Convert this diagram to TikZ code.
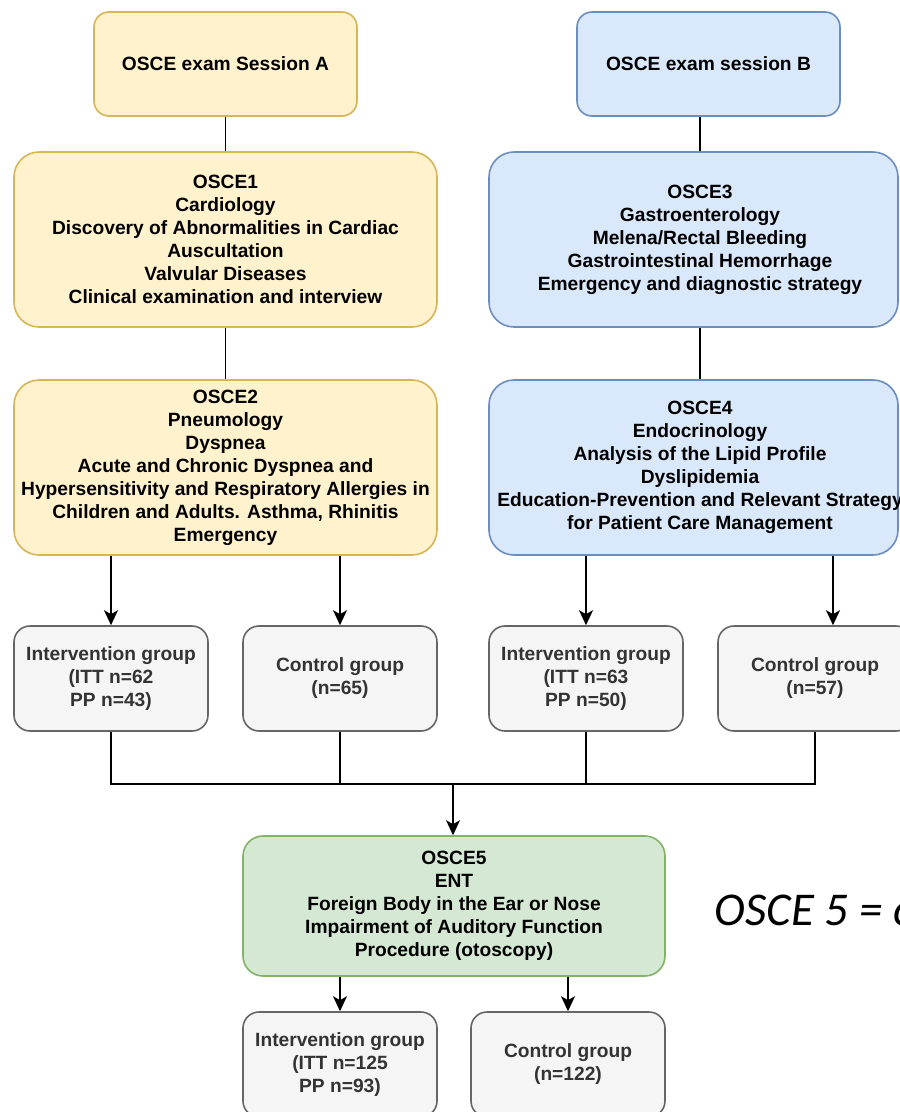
\documentclass[tikz,border=0pt]{standalone}
\usepackage{fontspec}
\setmainfont{Liberation Sans}
\newfontfamily\notefont{Carlito}
\usepackage{xcolor}
\usetikzlibrary{positioning,arrows.meta}

\definecolor{yellowfill}{HTML}{FFF2CC}
\definecolor{yellowline}{HTML}{D6B656}
\definecolor{bluefill}{HTML}{DAE8FC}
\definecolor{blueline}{HTML}{6C8EBF}
\definecolor{greenfill}{HTML}{D5E8D4}
\definecolor{greenline}{HTML}{82B366}
\definecolor{grayfill}{HTML}{F5F5F5}
\definecolor{grayline}{HTML}{666666}
\definecolor{graytext}{HTML}{333333}

\begin{document}
\begin{tikzpicture}[x=1pt, y=-1pt, line width=1.6pt,
    >={Stealth[length=15pt,width=14pt,inset=4pt]},
    every node/.style={font=\bfseries\fontsize{19.2}{23}\selectfont, align=center, inner sep=0pt},
    session/.style={draw, rounded corners=15pt, minimum width=263pt, minimum height=104pt},
    stage/.style={draw, rounded corners=25pt, minimum height=175pt},
    group/.style={draw=grayline, fill=grayfill, text=graytext, rounded corners=16pt,
        minimum width=194pt, minimum height=105pt},
    yellowbox/.style={fill=yellowfill, draw=yellowline},
    bluebox/.style={fill=bluefill, draw=blueline},
    greenbox/.style={fill=greenfill, draw=greenline}]

            % Define the page
            \useasboundingbox (0,0) rectangle (900,1112);
            \clip (0,0) rectangle (900,1112);
            \fill[white] (0,0) rectangle (900,1112);

            % Define the sessions
            \node[session, yellowbox] (sessA) at (225.5,64) {OSCE exam Session A};
            \node[session, bluebox] (sessB) at (708.5,64) {OSCE exam session B};

            % Define the stations of session A
            \node[stage, yellowbox, minimum width=423pt] (osce1) at (225.5,239.5)
                {OSCE1\\Cardiology\\Discovery of Abnormalities in Cardiac\\Auscultation\\Valvular Diseases\\Clinical examination and interview};
            \node[stage, yellowbox, minimum width=423pt] (osce2) at (225.5,467.5)
                {OSCE2\\Pneumology\\Dyspnea\\Acute and Chronic Dyspnea and\\Hypersensitivity and Respiratory Allergies in\\Children and Adults. Asthma, Rhinitis\\Emergency};

            % Define the stations of session B
            \node[stage, bluebox, minimum width=409pt] (osce3) at (693.5,239.5) {};
            \node (osce3txt) at (700,239.5)
                {OSCE3\\Gastroenterology\\Melena/Rectal Bleeding\\Gastrointestinal Hemorrhage\\Emergency and diagnostic strategy};
            \node[stage, bluebox, minimum width=409pt] (osce4) at (693.5,467.5) {};
            \node (osce4txt) at (700,467.5)
                {OSCE4\\Endocrinology\\Analysis of the Lipid Profile\\Dyslipidemia\\Education-Prevention and Relevant Strategy\\for Patient Care Management};

            % Define the groups
            \node[group] (intA) at (111,678.5) {Intervention group\\(ITT n=62\\PP n=43)};
            \node[group] (ctrlA) at (340,678.5) {Control group\\(n=65)};
            \node[group] (intB) at (586,678.5) {Intervention group\\(ITT n=63\\PP n=50)};
            \node[group] (ctrlB) at (815,678.5) {Control group\\(n=57)};

            % Define the common station
            \node[stage, greenbox, rounded corners=20pt, minimum width=422pt, minimum height=140pt] (osce5) at (454,906)
                {OSCE5\\ENT\\Foreign Body in the Ear or Nose\\Impairment of Auditory Function\\Procedure (otoscopy)};
            \node[group] (intC) at (340,1064.5) {Intervention group\\(ITT n=125\\PP n=93)};
            \node[group] (ctrlC) at (568,1064.5) {Control group\\(n=122)};
            \node[font=\notefont\itshape\fontsize{47}{56}\selectfont, anchor=base west] (note) at (714,925) {OSCE 5 = common};

            % Draw the links
            \draw (sessA.south) -- (osce1.north);
            \draw (osce1.south) -- (osce2.north);
            \draw (sessB.south -| osce3txt) -- (osce3.north -| osce3txt);
            \draw (osce3.south -| osce4txt) -- (osce4.north -| osce4txt);

            % Draw the arrows to the groups
            \draw[->] (osce2.south -| intA) -- (intA.north);
            \draw[->] (osce2.south -| ctrlA) -- (ctrlA.north);
            \draw[->] (osce4.south -| intB) -- (intB.north);
            \draw[->] ([xshift=18pt]ctrlB.north |- osce4.south) -- ([xshift=18pt]ctrlB.north);

            % Draw the merge
            \coordinate (merge) at (453,784);
            \foreach \grp in {intA,ctrlA,intB,ctrlB}
                \draw (\grp.south) |- (merge);
            \draw[->] (merge) -- (merge |- osce5.north);

            % Draw the arrows from OSCE5
            \draw[->] (osce5.south -| intC) -- (intC.north);
            \draw[->] (osce5.south -| ctrlC) -- (ctrlC.north);

        \end{tikzpicture}
\end{document}
